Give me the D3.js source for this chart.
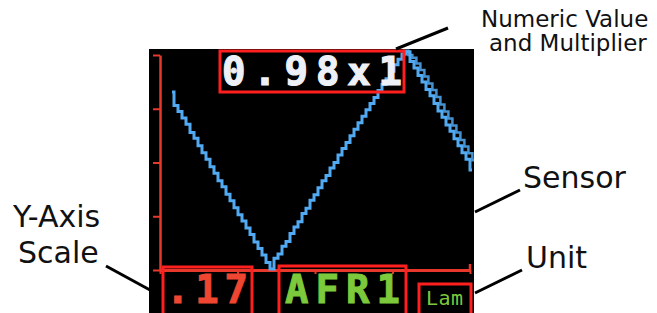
<!DOCTYPE html>
<html>
<head>
<meta charset="utf-8">
<script src="https://cdn.jsdelivr.net/npm/d3@7"></script>
<style>
  html, body { margin: 0; padding: 0; background: #fff; }
  svg { display: block; }
</style>
</head>
<body>
<svg id="chart" width="657" height="313"></svg>
<script>
// gauge readout texts
var valueText = "0.98x1";
var scaleText = ".17";
var sensorText = "AFR1";
var unitText = "Lam";

// y axis divisions / x axis divisions
var yTicks = [0, 1, 2, 3, 4];
var xTicks = [0, 1, 2, 3, 4];

// trace samples (one per step), value in y divisions
var trace = [3.31, 3.06, 2.95, 2.83, 2.71, 2.56, 2.45, 2.31, 2.18, 2.06,
             1.92, 1.80, 1.66, 1.55, 1.41, 1.29, 1.16, 1.03, 0.91, 0.78,
             0.66, 0.52, 0.40, 0.28, 0.14, 0.02,
             0.22, 0.30, 0.44, 0.53, 0.68, 0.80, 0.90, 1.05, 1.15, 1.30,
             1.40, 1.53, 1.66, 1.76, 1.90, 2.00, 2.14, 2.26, 2.37, 2.50,
             2.62, 2.74, 2.86, 2.98, 3.10, 3.21, 3.34, 3.45, 3.56, 3.70,
             3.82, 3.92, 4.02, 4.06,
             3.88, 3.76, 3.62, 3.50, 3.36, 3.24, 3.10, 2.96, 2.84, 2.70,
             2.58, 2.44, 2.31, 2.18, 2.06, 1.86];

// older sweep still on screen at the right
var ghostStart = 57;
var ghost = [4.00, 4.08, 4.00, 3.95, 3.84, 3.72, 3.60, 3.47, 3.35, 3.22,
             3.08, 2.95, 2.82, 2.69, 2.56, 2.42, 2.30, 2.17, 2.04];

var svg = d3.select("#chart");

var red = "#ff1f1f",
    axisRed = "#e8372b",
    blue = "#52aaf2",
    green = "#7cc93c";

// the screen
var screen = {x: 149, y: 49, w: 325, h: 264};
svg.append("rect")
  .attr("x", screen.x).attr("y", screen.y)
  .attr("width", screen.w).attr("height", screen.h)
  .attr("fill", "#000");

svg.append("clipPath").attr("id", "clip")
  .append("rect")
  .attr("x", screen.x).attr("y", screen.y)
  .attr("width", screen.w).attr("height", screen.h);

var x = d3.scaleLinear().domain([-3, 75.5]).range([160, 474]);
var y = d3.scaleLinear().domain([0, 4]).range([270, 55]);
var xa = d3.scaleLinear().domain([0, 4]).range([160, 470]);

var g = svg.append("g").attr("clip-path", "url(#clip)");

// y axis
var yAxis = g.append("g")
  .attr("transform", "translate(160,0)")
  .call(d3.axisLeft(y).tickValues(yTicks).tickSize(7).tickSizeOuter(0).tickFormat(""));
yAxis.select(".domain").attr("stroke", axisRed).attr("stroke-width", 2.5);
yAxis.selectAll(".tick line").attr("stroke", axisRed).attr("stroke-width", 2);

// x axis
var xAxis = g.append("g")
  .attr("transform", "translate(0,270)")
  .call(d3.axisBottom(xa).tickValues(xTicks).tickSize(4).tickSizeOuter(0).tickFormat(""));
xAxis.select(".domain").attr("stroke", axisRed).attr("stroke-width", 3);
xAxis.selectAll(".tick line").attr("stroke", axisRed).attr("stroke-width", 2);
g.append("line")
  .attr("x1", xa(4)).attr("x2", xa(4))
  .attr("y1", 270).attr("y2", 264)
  .attr("stroke", axisRed).attr("stroke-width", 2.5);

// traces
var line = d3.line()
  .x(function(d) { return x(d[0]); })
  .y(function(d) { return y(d[1]); })
  .curve(d3.curveStep);

g.append("path")
  .datum(ghost.map(function(v, i) { return [ghostStart + i + 0.6, v]; }))
  .attr("d", line)
  .attr("fill", "none")
  .attr("stroke", blue)
  .attr("stroke-width", 2.5)
  .attr("opacity", 0.85);

g.append("path")
  .datum(trace.map(function(v, i) { return [i, v]; }))
  .attr("d", line)
  .attr("fill", "none")
  .attr("stroke", blue)
  .attr("stroke-width", 3);

// readouts
var mono = "'DejaVu Sans Mono', 'Liberation Mono', monospace";

svg.append("text")
  .attr("x", 222).attr("y", 85)
  .attr("textLength", 180).attr("lengthAdjust", "spacing")
  .attr("font-family", mono).attr("font-weight", "bold")
  .attr("font-size", 39).attr("fill", "#eef0f8")
  .attr("stroke", "#eef0f8").attr("stroke-width", 1.2)
  .text(valueText);

svg.append("text")
  .attr("x", 166).attr("y", 303)
  .attr("textLength", 82).attr("lengthAdjust", "spacing")
  .attr("font-family", mono).attr("font-weight", "bold")
  .attr("font-size", 39).attr("fill", "#ee4630")
  .attr("stroke", "#ee4630").attr("stroke-width", 1)
  .text(scaleText);

svg.append("text")
  .attr("x", 285).attr("y", 303)
  .attr("textLength", 115).attr("lengthAdjust", "spacing")
  .attr("font-family", mono).attr("font-weight", "bold")
  .attr("font-size", 39).attr("fill", green)
  .attr("stroke", green).attr("stroke-width", 1)
  .text(sensorText);

svg.append("text")
  .attr("x", 426).attr("y", 305)
  .attr("textLength", 37).attr("lengthAdjust", "spacing")
  .attr("font-family", mono)
  .attr("font-size", 20).attr("fill", green)
  .text(unitText);

// red highlight boxes
var boxes = [
  {x: 220, y: 51, w: 184, h: 41},
  {x: 163, y: 267, w: 89, h: 50},
  {x: 279, y: 266, w: 127, h: 50},
  {x: 419, y: 284, w: 52, h: 33}
];
svg.selectAll(".box")
  .data(boxes)
  .enter().append("rect")
  .attr("class", "box")
  .attr("x", function(d) { return d.x; })
  .attr("y", function(d) { return d.y; })
  .attr("width", function(d) { return d.w; })
  .attr("height", function(d) { return d.h; })
  .attr("fill", "none")
  .attr("stroke", red)
  .attr("stroke-width", 3);

// annotations
var sans = "'DejaVu Sans', Verdana, sans-serif";
var notes = [
  {t: "Numeric Value", x: 481, y: 27, s: 23},
  {t: "and Multiplier", x: 489, y: 51, s: 23},
  {t: "Y-Axis", x: 13, y: 227, s: 30},
  {t: "Scale", x: 18, y: 263, s: 30},
  {t: "Sensor", x: 523, y: 188, s: 30},
  {t: "Unit", x: 526, y: 268, s: 30}
];
svg.selectAll(".note")
  .data(notes)
  .enter().append("text")
  .attr("class", "note")
  .attr("x", function(d) { return d.x; })
  .attr("y", function(d) { return d.y; })
  .attr("font-family", sans)
  .attr("font-size", function(d) { return d.s; })
  .attr("fill", "#111")
  .text(function(d) { return d.t; });

var leaders = [
  [396, 49, 448, 28],
  [106, 266, 150, 290],
  [475, 212, 520, 190],
  [475, 293, 522, 270]
];
svg.selectAll(".leader")
  .data(leaders)
  .enter().append("line")
  .attr("class", "leader")
  .attr("x1", function(d) { return d[0]; })
  .attr("y1", function(d) { return d[1]; })
  .attr("x2", function(d) { return d[2]; })
  .attr("y2", function(d) { return d[3]; })
  .attr("stroke", "#000")
  .attr("stroke-width", 3);
</script>
</body>
</html>
